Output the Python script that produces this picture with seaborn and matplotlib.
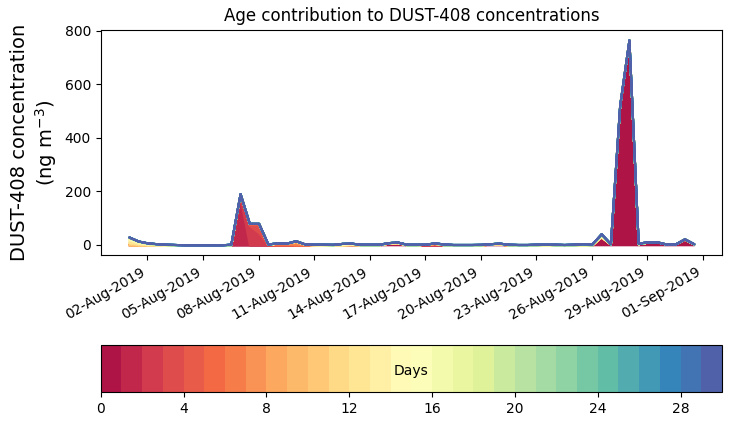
import numpy as np
import pandas as pd
import matplotlib
matplotlib.use("Agg")
import matplotlib.pyplot as plt
import matplotlib.dates as mdates
from matplotlib.colors import ListedColormap, BoundaryNorm
import matplotlib.cm as cm
import seaborn as sns

# ---------------- data ----------------
times = pd.date_range("2019-08-01 00:00", "2019-08-31 12:00", freq="12h")
n_ages = 30
age_ticks = [0, 4, 8, 12, 16, 20, 24, 28]
date_ticks = pd.date_range("2019-08-02", "2019-09-01", freq="3D")
title = "Age contribution to DUST-408 concentrations"
ylabel = "DUST-408 concentration\n(ng m$^{-3}$)"
cbar_label = "Days"

# contributions (ng m-3) per age bin, keyed by timestamp; missing = 0
age_00 = {"08-13 00": 1, "08-15 00": 5, "08-15 12": 6, "08-20 12": 2, "08-21 00": 2,
          "08-26 12": 30, "08-27 00": 3, "08-27 12": 515, "08-28 00": 758,
          "08-28 12": 4, "08-29 00": 8, "08-29 12": 10, "08-30 00": 3,
          "08-30 12": 3, "08-31 00": 20, "08-31 12": 3}
age_01 = {"08-07 00": 174, "08-15 00": 1, "08-15 12": 2, "08-27 12": 6,
          "08-28 00": 8, "08-29 00": 2, "08-29 12": 1}
age_02 = {"08-07 00": 12, "08-07 12": 72, "08-08 00": 45}
age_03 = {"08-07 00": 5, "08-07 12": 6, "08-08 00": 30, "08-17 00": 2,
          "08-17 12": 3, "08-31 00": 2}
age_04 = {"08-08 00": 5, "08-08 12": 2, "08-17 12": 2}
age_05 = {"08-07 12": 2, "08-09 00": 4, "08-09 12": 3}
age_06 = {"08-09 00": 2, "08-09 12": 3, "08-10 00": 8}
age_07 = {"08-10 00": 5, "08-10 12": 2}
age_10 = {"08-01 00": 8, "08-17 12": 2}
age_11 = {"08-01 12": 5, "08-21 00": 4}
age_12 = {"08-01 00": 12, "08-02 00": 3, "08-10 00": 2, "08-13 00": 3,
          "08-15 00": 2, "08-20 12": 2, "08-26 12": 4}
age_13 = {"08-01 12": 6, "08-10 12": 1, "08-11 00": 1, "08-12 12": 3,
          "08-15 12": 2}
age_14 = {"08-01 00": 6, "08-02 12": 2, "08-09 00": 1, "08-13 00": 2}
age_15 = {"08-02 00": 2, "08-12 12": 2}
age_16 = {"08-03 00": 1, "08-11 12": 1, "08-26 12": 4}
age_17 = {"08-01 12": 3, "08-23 12": 2}
age_18 = {"08-01 00": 3, "08-11 00": 1, "08-25 12": 2}
age_19 = {"08-02 00": 2}
age_20 = {"08-02 12": 2, "08-08 12": 1, "08-11 12": 1, "08-26 12": 3}
age_22 = {"08-03 00": 1, "08-03 12": 1, "08-06 12": 2, "08-12 00": 1.5,
          "08-13 12": 2, "08-14 00": 2, "08-14 12": 2, "08-16 00": 2,
          "08-16 12": 2, "08-18 00": 3, "08-18 12": 1, "08-19 00": 1,
          "08-19 12": 1, "08-20 00": 1.5, "08-21 12": 2, "08-22 00": 1,
          "08-22 12": 1, "08-23 00": 2, "08-24 00": 2, "08-24 12": 1,
          "08-25 00": 2, "08-25 12": 2, "08-26 00": 3, "08-27 00": 1,
          "08-28 12": 2, "08-29 00": 1, "08-31 12": 1}

contributions = {0: age_00, 1: age_01, 2: age_02, 3: age_03, 4: age_04,
                 5: age_05, 6: age_06, 7: age_07, 10: age_10, 11: age_11,
                 12: age_12, 13: age_13, 14: age_14, 15: age_15, 16: age_16,
                 17: age_17, 18: age_18, 19: age_19, 20: age_20, 22: age_22}

keys = list(times.strftime("%m-%d %H"))
matrix = np.zeros((n_ages, len(times)))
for age, series in contributions.items():
    for k, v in series.items():
        matrix[age, keys.index(k)] = v

# ---------------- style ----------------
sns.set_style("ticks", {"axes.edgecolor": "black", "xtick.color": "black",
                        "ytick.color": "black", "text.color": "black",
                        "axes.labelcolor": "black"})
plt.rcParams["font.family"] = ["DejaVu Sans"]

palette = sns.color_palette("Spectral", n_ages)

fig = plt.figure(figsize=(7.3, 4.25), dpi=100)
ax = fig.add_axes([0.138, 0.40, 0.851, 0.53])
cax = fig.add_axes([0.138, 0.077, 0.851, 0.112])

polys = ax.stackplot(times, matrix, colors=palette, linewidth=1.5)
for p, c in zip(polys, palette):
    p.set_edgecolor(c)
    p.sticky_edges.y.clear()

ax.set_title(title, fontsize=12)
ax.set_ylabel(ylabel, fontsize=14)
ax.set_xticks(date_ticks)
ax.xaxis.set_major_formatter(mdates.DateFormatter("%d-%b-%Y"))
plt.setp(ax.get_xticklabels(), rotation=30, ha="right")
ax.tick_params(labelsize=10)
ax.set_yticks([0, 200, 400, 600, 800])
ax.margins(x=0.05, y=0.05)

cmap = ListedColormap(list(palette))
norm = BoundaryNorm(np.arange(0, n_ages + 1), n_ages)
cb = fig.colorbar(cm.ScalarMappable(norm=norm, cmap=cmap), cax=cax,
                  orientation="horizontal", ticks=age_ticks)
cb.outline.set_edgecolor("black")
cax.minorticks_off()
cax.tick_params(labelsize=10)
cax.text(0.5, 0.45, cbar_label, transform=cax.transAxes, ha="center",
         va="center", fontsize=10)

fig.savefig("out.png", dpi=100)
